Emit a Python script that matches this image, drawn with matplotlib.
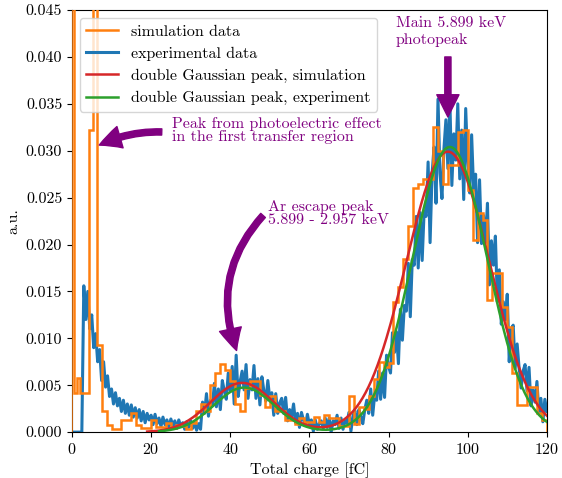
import numpy as np
import matplotlib
matplotlib.use("Agg")
import matplotlib.pyplot as plt

plt.rcParams['font.family'] = ['cmr10', 'DejaVu Serif']
plt.rcParams['mathtext.fontset'] = 'cm'
plt.rcParams['axes.formatter.use_mathtext'] = True
plt.rcParams['font.size'] = 11.5
plt.rcParams['axes.unicode_minus'] = False

# ---------------- data (a.u. values in units of 1e-3) ----------------
# simulation histogram: bin edges [fC] and bin contents
sim_edges = [-0.15, 0.6, 1.35, 2.05, 4.35, 5.3, 6.4, 7.6] + list(np.arange(8.75, 120.01, 1.25))
sim_values = [
    80.0, 4.2, 5.8, 4.2, 32.2, 80.0, 9.3, 2.3,
    0.8, 0.3, 0.3, 1.3, 1.3, 2.0, 0.8, 0.4, 0.4, 1.3,
    0.5, 0.5, 1.0, 0.4, 0.8, 0.6, 0.3, 1.0, 2.3, 3.0,
    2.3, 5.0, 6.3, 7.3, 6.6, 5.4, 3.0, 2.2, 4.7, 5.4,
    5.4, 4.0, 2.7, 3.8, 2.3, 2.3, 1.3, 1.3, 0.9, 1.5,
    1.1, 1.1, 1.6, 1.1, 1.8, 1.5, 1.5, 0.7, 0.7, 3.8,
    0.9, 2.7, 2.5, 3.8, 5.7, 7.5, 6.9, 7.4, 13.9, 15.5,
    18.5, 22.0, 26.0, 26.5, 27.0, 27.0, 32.5, 30.0, 26.5, 28.5,
    28.5, 32.0, 32.2, 25.8, 20.5, 23.4, 22.6, 14.1, 17.0, 17.0,
    13.3, 11.2, 6.3, 2.9, 2.9, 4.8, 4.8, 2.0, 1.3,
]

# experimental histogram: bin centres [fC] and contents
exp_charge = np.arange(0.0, 120.01, 0.5)
exp_values = [
    0, 0, 0, 0, 0, 0,
    15.6, 12.0, 15.0, 11.0, 12.5, 9.0, 10.5, 7.5, 8.8, 5.5,
    7.5, 4.8, 6.0, 3.8, 4.6, 3.0, 4.2, 2.8, 3.6, 2.2,
    3.4, 2.0, 3.0, 1.8, 2.9, 1.6, 2.6, 1.5, 2.4, 1.2,
    2.2, 1.0, 2.0, 1.3, 1.8, 0.8, 1.9, 0.9, 1.5, 0.6,
    1.6, 0.8, 1.3, 0.5, 1.4, 0.7, 1.2, 0.4, 1.3, 0.6,
    1.0, 0.3, 1.1, 0.5, 1.2, 0.4, 1.0, 0.2, 0.9, 0.3,
    3.2, 2.0, 4.1, 1.7, 3.4, 2.8, 5.2, 2.7, 4.6, 2.4,
    5.5, 4.4, 3.5, 6.3, 4.4, 7.0, 3.0, 8.2, 3.8, 5.4,
    6.5, 4.5, 7.2, 3.6, 5.6, 4.5, 7.1, 3.6, 5.7, 2.9,
    5.9, 4.4, 3.3, 5.5, 3.5, 4.2, 1.8, 4.1, 2.0, 3.1,
    3.6, 2.0, 3.7, 1.2, 2.4, 1.6, 3.0, 1.0, 2.0, 0.5,
    2.1, 1.3, 0.7, 1.9, 0.8, 1.3, 0.1, 1.3, 0.3, 0.9,
    1.2, 0.4, 1.5, 0.5, 1.5, 0.0, 1.2, 0.8, 1.8, 0.4,
    1.5, 0.3, 1.2, 1.0, 2.1, 0.1, 1.7, 2.3, 0.8, 2.4,
    1.6, 0.9, 2.4, 3.4, 2.0, 4.6, 1.8, 4.0, 3.4, 6.5,
    3.5, 6.3, 3.7, 8.2, 7.0, 6.3, 10.6, 8.5, 10.7, 7.3,
    13.1, 9.8, 13.5, 12.9, 18.0, 12.3, 18.4, 17.8, 23.0, 17.5,
    23.4, 18.3, 23.6, 23.0, 28.8, 20.2, 27.5, 30.4, 24.4, 35.5,
    27.6, 24.9, 30.2, 33.3, 28.1, 35.4, 26.3, 31.8, 29.0, 35.0,
    27.0, 32.2, 24.8, 34.5, 28.7, 25.5, 31.7, 25.8, 27.5, 20.2,
    26.9, 20.1, 23.1, 20.2, 24.4, 15.7, 20.4, 17.8, 20.9, 13.9,
    17.3, 11.5, 13.9, 12.0, 14.7, 7.5, 11.0, 11.4, 6.8, 9.4,
    6.8, 4.7, 6.5, 7.2, 4.4, 6.9, 2.8, 4.5, 3.2, 5.4,
    2.1, 3.6, 1.1, 3.5, 2.2,
]

# double Gaussian fit parameters: (A1, mu1, sigma1, A2, mu2, sigma2), range
fit_sim = (5.25, 43.0, 8.0, 29.9, 95.0, 10.5)
fit_sim_range = (19.0, 120.0)
fit_exp = (4.75, 43.5, 7.6, 30.4, 95.5, 9.5)
fit_exp_range = (22.0, 120.0)

scale = 1e-3


def double_gauss(x, p):
    a1, m1, s1, a2, m2, s2 = p
    return a1 * np.exp(-(x - m1) ** 2 / (2 * s1 ** 2)) + a2 * np.exp(-(x - m2) ** 2 / (2 * s2 ** 2))


fig = plt.figure(figsize=(5.62, 4.78), dpi=100)
ax = fig.add_axes([0.128, 0.096, 0.845, 0.883])

ax.stairs(np.array(sim_values) * scale, sim_edges, color='#ff7f0e', lw=1.8,
          label='simulation data', zorder=3)
ax.plot(exp_charge, np.array(exp_values) * scale, color='#1f77b4', lw=2.2,
        label='experimental data', zorder=2)

xs = np.linspace(*fit_sim_range, 400)
ax.plot(xs, double_gauss(xs, fit_sim) * scale, color='#d62728', lw=1.8,
        label='double Gaussian peak, simulation', zorder=4)
xe = np.linspace(*fit_exp_range, 400)
ax.plot(xe, double_gauss(xe, fit_exp) * scale, color='#2ca02c', lw=1.8,
        label='double Gaussian peak, experiment', zorder=4)

ax.set_xlim(0, 120)
ax.set_ylim(0, 0.045)
ax.set_xticks([0, 20, 40, 60, 80, 100, 120])
ax.set_yticks(np.arange(0, 0.0451, 0.005))
ax.yaxis.set_major_formatter(matplotlib.ticker.FormatStrFormatter('%.3f'))
ax.set_xlabel('Total charge [fC]')
ax.set_ylabel('a.u.')

ax.legend(loc='upper left')

purple = '#800080'
arrow_kw = dict(arrowstyle='simple,head_length=1.0,head_width=1.0,tail_width=0.28',
                color=purple, mutation_scale=16, shrinkA=0, shrinkB=0)

ax.text(25.4, 0.0336, 'Peak from photoelectric effect\nin the first transfer region',
        color=purple, ha='left', va='top', linespacing=0.95)
ax.annotate('', xy=(6.9, 0.0306), xytext=(22.7, 0.0320),
            arrowprops=dict(connectionstyle='arc3,rad=0.12', **arrow_kw))

ax.text(49.5, 0.0248, 'Ar escape peak\n5.899 - 2.957 keV',
        color=purple, ha='left', va='top', linespacing=0.95)
ax.annotate('', xy=(41.6, 0.0087), xytext=(48.3, 0.0231),
            arrowprops=dict(connectionstyle='arc3,rad=0.3', **arrow_kw))

ax.text(81.9, 0.0443, 'Main 5.899 keV\nphotopeak',
        color=purple, ha='left', va='top', linespacing=1.25)
ax.annotate('', xy=(95.0, 0.0336), xytext=(95.0, 0.0400),
            arrowprops=dict(connectionstyle='arc3,rad=0', **arrow_kw))

fig.savefig('out.png', dpi=100)
